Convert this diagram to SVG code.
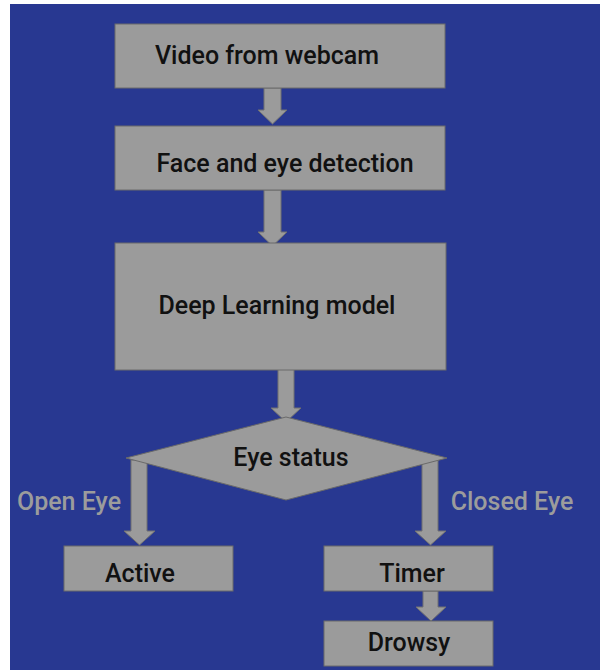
<svg xmlns="http://www.w3.org/2000/svg" width="600" height="670" viewBox="0 0 600 670">
<style>
.box{fill:#9b9b9b;stroke:#6a6a6a;stroke-width:1}
.arr{fill:#9b9b9b;stroke:#707070;stroke-width:1}
.t{font-family:Roboto,"Liberation Sans",sans-serif;font-weight:500;font-size:25px;fill:#111;text-anchor:middle}
.lbl{font-family:Roboto,"Liberation Sans",sans-serif;font-weight:500;font-size:25px;fill:#9c9c9c;text-anchor:middle}
</style>
<rect x="0" y="0" width="600" height="670" fill="#ffffff"/>
<rect x="10" y="4" width="590" height="666" fill="#283891"/>
<g id="connectors">
<polygon class="arr" points="264,88 281,88 281,110 287,110 272.5,124 258,110 264,110"/>
<polygon class="arr" points="264,190 281,190 281,232 287,232 272.5,246 258,232 264,232"/>
<polygon class="arr" points="278,366 294,366 294,408 301,408 286,422 271,408 278,408"/>
<polygon class="arr" points="131,460 147,460 147,531 155,531 139.5,545 124,531 131,531"/>
<polygon class="arr" points="422,460 438,460 438,531 446,531 430.5,545 415,531 422,531"/>
<polygon class="arr" points="423,591 438,591 438,607 446,607 431,621 416,607 423,607"/>
</g>
<g id="video">
<rect class="box" x="115" y="24" width="330" height="64"/>
<text class="t" x="267" y="64">Video from webcam</text>
</g>
<g id="face">
<rect class="box" x="115" y="126" width="330" height="64"/>
<text class="t" x="285" y="172">Face and eye detection</text>
</g>
<g id="model">
<rect class="box" x="115" y="243" width="331" height="127"/>
<text class="t" x="277" y="314">Deep Learning model</text>
</g>
<g id="status">
<polygon class="box" points="286,417 447,458 286,500 126,458"/>
<text class="t" x="291" y="466">Eye status</text>
</g>
<g id="open-label"><text class="lbl" x="69" y="510">Open Eye</text></g>
<g id="closed-label"><text class="lbl" x="512" y="510">Closed Eye</text></g>
<g id="active">
<rect class="box" x="64" y="546" width="169" height="45"/>
<text class="t" x="140" y="582">Active</text>
</g>
<g id="timer">
<rect class="box" x="324" y="546" width="169" height="45"/>
<text class="t" x="412" y="582">Timer</text>
</g>
<g id="drowsy">
<rect class="box" x="324" y="621" width="169" height="45"/>
<text class="t" x="409" y="651">Drowsy</text>
</g>
</svg>
